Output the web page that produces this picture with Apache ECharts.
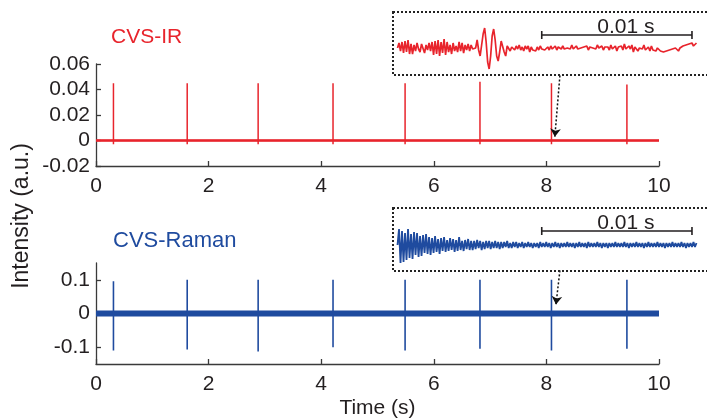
<!DOCTYPE html>
<html>
<head>
<meta charset="utf-8">
<script src="https://cdn.jsdelivr.net/npm/echarts@6/dist/echarts.min.js"></script>
<style>
html, body { margin: 0; padding: 0; background: #fff; }
#main { width: 707px; height: 420px; }
</style>
</head>
<body>
<div id="main"></div>
<script>
// spike positions (s) and spike amplitudes
var spikeTimes = [0.31, 1.62, 2.88, 4.21, 5.49, 6.82, 8.09, 9.43];
var irPeaks = [0.045, 0.045, 0.045, 0.045, 0.045, 0.046, 0.045, 0.044];
var irTroughs = [-0.003, -0.003, -0.003, -0.003, -0.003, -0.003, -0.003, -0.003];
var ramanPeaks = [0.096, 0.1, 0.1, 0.1, 0.1, 0.1, 0.1, 0.1];
var ramanTroughs = [-0.11, -0.107, -0.113, -0.1, -0.11, -0.105, -0.11, -0.105];

// zoomed insets (a.u.), one sample every 0.1 ms
var insetStep = 0.0001;
var irInset = [
  0, 5, -3, 6, -5, 7, -4, 8, -6, 4,
  -6, 3, -3, 5, -1, -4, 4, 2, -5, 3,
  -2, 5, -3, 6, -7, 7, -6, 8, -8, 6,
  -5, 9, -7, 6, -4, 3, -6, 5, -3, 2,
  -4, 6, -3, 5, -5, 3, -2, 4, -3, 3,
  -1, 1, 0, 8, -2, -8, 3, 14, 20, 6,
  -14, -21, -8, 12, 19, 8, -8, -13, -4, 7,
  8, -4, -8, 2, 4, -3, 1, 3, -2, 2,
  -1, 3, -2, 1, -3, 2, -1, 2, -4, 1,
  -2, 0, -3, 1, -2, 2, -1, 1, -2, 0,
  1, -2, 2, -1, 0, 2, -2, 1, 0, -1,
  2, -1, 1, 0, 2, -1, 3, -1, 0, 2,
  -1, 1, 0, -2, 1, 0, 2, -2, 1, -1,
  0, 2, -1, 3, 0, -1, 2, -2, 1, 0,
  1, -2, 3, -1, 0, 2, -3, 1, -1, 2,
  -2, 4, -1, -3, 2, -1, 3, -4, 1, 2,
  -3, 0, 2, -1, 3, -2, 0, 1, -3, 2,
  -2, -1, -3, 0, -2, -3, -1, -4, -2, -3,
  -1, -2, -4, -1, -3, 0, -2, -3, 0, -1,
  2, 0, 3, 1, 4, 3, 5, 2, 4, 5
];
var ramanInset = [
  0, 16, -18, 14, -17, 12, -15, 16, -13, 11,
  -14, 13, -10, 12, -12, 9, -11, 10, -8, 11,
  -9, 8, -10, 7, -8, 9, -7, 6, -9, 7,
  -6, 8, -7, 5, -6, 7, -5, 6, -7, 5,
  -6, 8, -5, 4, -6, 5, -4, 6, -5, 4,
  -5, 4, -4, 5, -3, 4, -5, 3, -4, 4,
  -3, 4, -4, 3, -3, 4, -3, 3, -4, 3,
  -3, 3, -2, 4, -3, 2, -3, 3, -2, 3,
  -3, 2, -2, 3, -3, 2, -2, 3, -2, 2,
  -3, 2, -2, 2, -3, 3, -2, 2, -2, 3,
  -2, 2, -3, 2, -2, 3, -2, 2, -3, 2,
  -2, 2, -2, 3, -2, 2, -2, 2, -3, 2,
  -2, 3, -2, 2, -2, 2, -3, 3, -2, 2,
  -2, 2, -2, 3, -2, 2, -3, 2, -2, 2,
  -3, 2, -2, 2, -2, 3, -2, 2, -2, 2,
  -2, 3, -2, 2, -3, 2, -2, 2, -2, 3,
  -2, 2, -2, 2, -3, 2, -2, 3, -2, 2,
  -2, 2, -2, 3, -2, 2, -2, 2, -3, 2,
  -2, 2, -2, 3, -2, 2, -2, 2, -2, 3,
  -2, 2, -3, 2, -2, 2, -2, 3, -2, 2
];
var scaleBar = [0.0096, 0.0196];   // 0.01 s
var scaleLabelAt = 0.0152;
var irBarLevel = 13;
var ramanBarLevel = 14;

// dotted pointers from the inset to the spike at ~8.1 s
var irArrow = [[8.24, 0.051], [8.15, 0.003]];
var ramanArrow = [[8.24, 0.128], [8.17, 0.027]];

var myChart = echarts.init(document.getElementById('main'));

var FONT = 'Liberation Sans, Arial, sans-serif';
var RED = '#e8242c';
var BLUE = '#1f4b9f';
var INK = '#231f20';
var AXIS = '#3a3a3a';

function spikeData(peaks, troughs) {
    var d = [[0, 0]];
    spikeTimes.forEach(function (t, i) {
        d.push([t, 0], [t, peaks[i]], [t, troughs[i]], [t, 0]);
    });
    d.push([10, 0]);
    return d;
}

function insetData(vals) {
    return vals.map(function (v, i) { return [i * insetStep, v]; });
}

function barData(y) {
    var cap = 4;
    return [
        [scaleBar[0], y + cap], [scaleBar[0], y - cap], [scaleBar[0], y],
        {
            value: [scaleLabelAt, y],
            label: { show: true, position: 'top', distance: -3, formatter: '0.01 s',
                     fontFamily: FONT, fontSize: 21, color: INK }
        },
        [scaleBar[1], y], [scaleBar[1], y + cap], [scaleBar[1], y - cap]
    ];
}

function mainX(gridIndex, extra) {
    var ax = {
        type: 'value', gridIndex: gridIndex, min: 0, max: 10, interval: 2,
        axisLine: { show: true, onZero: false, lineStyle: { color: AXIS, width: 1.3 } },
        axisTick: { show: true, inside: true, length: 5, lineStyle: { color: AXIS, width: 1.3 } },
        axisLabel: { fontFamily: FONT, fontSize: 21, color: INK, margin: 10 },
        splitLine: { show: false }
    };
    return Object.assign(ax, extra || {});
}

function mainY(gridIndex, extra) {
    var ax = {
        type: 'value', gridIndex: gridIndex,
        axisLine: { show: true, onZero: false, lineStyle: { color: AXIS, width: 1.3 } },
        axisTick: { show: true, inside: true, length: 5, lineStyle: { color: AXIS, width: 1.3 } },
        axisLabel: { fontFamily: FONT, fontSize: 21, color: INK, margin: 6 },
        splitLine: { show: false }
    };
    return Object.assign(ax, extra || {});
}

function hiddenAxis(gridIndex, min, max) {
    return {
        type: 'value', gridIndex: gridIndex, min: min, max: max, show: false
    };
}

var grids = [
    { left: 96, top: 64, width: 563, height: 102 },
    { left: 96, top: 263, width: 563, height: 102 },
    { left: 393, top: 12, width: 324, height: 63 },
    { left: 393, top: 208, width: 324, height: 63 }
];

// dotted frames around the two insets, taken from the inset grids
var frames = [grids[2], grids[3]].map(function (g) {
    return {
        type: 'rect', silent: true, z: 10,
        shape: { x: g.left, y: g.top, width: g.width, height: g.height },
        style: { fill: 'none', stroke: '#222', lineWidth: 2, lineDash: [2, 2] }
    };
});

var option = {
    animation: false,
    title: [
        { text: 'CVS-IR', left: 106, top: 22, textStyle: { fontFamily: FONT, fontSize: 21, fontWeight: 'normal', color: RED } },
        { text: 'CVS-Raman', left: 108, top: 225, textStyle: { fontFamily: FONT, fontSize: 22, fontWeight: 'normal', color: BLUE } }
    ],
    graphic: frames.concat([{
        type: 'text', x: 22, y: 216, rotation: Math.PI / 2,
        style: { text: 'Intensity (a.u.)', fontFamily: FONT, fontSize: 23, fill: INK,
                 align: 'center', verticalAlign: 'middle' }
    }]),
    grid: grids,
    xAxis: [
        mainX(0),
        mainX(1, { name: 'Time (s)', nameLocation: 'middle', nameGap: 34,
                   nameTextStyle: { fontFamily: FONT, fontSize: 21, color: INK } }),
        hiddenAxis(2, -0.0003, 0.0206),
        hiddenAxis(3, -0.0003, 0.0206)
    ],
    yAxis: [
        mainY(0, { min: -0.02, max: 0.06, interval: 0.02 }),
        mainY(1, { min: -0.15, max: 0.15,
                   axisLabel: { fontFamily: FONT, fontSize: 21, color: INK, margin: 6, customValues: [-0.1, 0, 0.1] },
                   axisTick: { show: true, inside: true, length: 5, lineStyle: { color: AXIS, width: 1.3 }, customValues: [-0.1, 0, 0.1] } }),
        hiddenAxis(2, -27, 36),
        hiddenAxis(3, -26, 37)
    ],
    series: [
        {
            type: 'line', xAxisIndex: 0, yAxisIndex: 0, showSymbol: false,
            data: [[0, 0], [10, 0]], lineStyle: { color: RED, width: 2.5 }
        },
        {
            type: 'line', xAxisIndex: 0, yAxisIndex: 0, showSymbol: false,
            data: spikeData(irPeaks, irTroughs), lineStyle: { color: RED, width: 1.5 },
            markLine: {
                silent: true, symbol: ['none', 'arrow'], symbolSize: 8,
                lineStyle: { color: '#111', width: 1.5, type: [2, 2] },
                label: { show: false },
                data: [[{ coord: irArrow[0] }, { coord: irArrow[1] }]]
            }
        },
        {
            type: 'line', xAxisIndex: 1, yAxisIndex: 1, showSymbol: false,
            data: [[0, 0], [10, 0]], lineStyle: { color: BLUE, width: 6 }
        },
        {
            type: 'line', xAxisIndex: 1, yAxisIndex: 1, showSymbol: false,
            data: spikeData(ramanPeaks, ramanTroughs), lineStyle: { color: BLUE, width: 1.6 },
            markLine: {
                silent: true, symbol: ['none', 'arrow'], symbolSize: 8,
                lineStyle: { color: '#111', width: 1.5, type: [2, 2] },
                label: { show: false },
                data: [[{ coord: ramanArrow[0] }, { coord: ramanArrow[1] }]]
            }
        },
        {
            type: 'line', xAxisIndex: 2, yAxisIndex: 2, showSymbol: false,
            data: insetData(irInset), lineStyle: { color: RED, width: 1.7 }
        },
        {
            type: 'line', xAxisIndex: 3, yAxisIndex: 3, showSymbol: false,
            data: insetData(ramanInset), lineStyle: { color: BLUE, width: 1.8 }
        },
        {
            type: 'line', xAxisIndex: 2, yAxisIndex: 2, symbol: 'circle', symbolSize: 0, showSymbol: true,
            data: barData(irBarLevel), lineStyle: { color: INK, width: 1.6 }, itemStyle: { color: INK }
        },
        {
            type: 'line', xAxisIndex: 3, yAxisIndex: 3, symbol: 'circle', symbolSize: 0, showSymbol: true,
            data: barData(ramanBarLevel), lineStyle: { color: INK, width: 1.6 }, itemStyle: { color: INK }
        }
    ]
};

myChart.setOption(option);
</script>
</body>
</html>
